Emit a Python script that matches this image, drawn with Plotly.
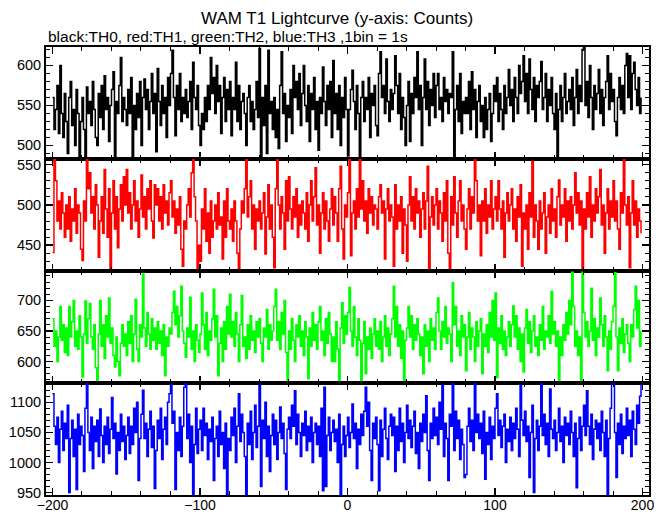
import plotly.graph_objects as go

# bin start times (1 s bins)
time = list(range(-200, 200))

# TH0 (black)
th0 = [
560, 520, 545, 575, 515, 600, 540, 510, 565, 530,
490, 560, 580, 525, 545, 500, 570, 540, 485, 530,
560, 520, 483, 573, 540, 555, 525, 580, 545, 510,
500, 565, 535, 575, 520, 587, 545, 560, 505, 550,
570, 592, 483, 555, 540, 575, 610, 530, 560, 545,
525, 570, 540, 585, 485, 550, 520, 565, 535, 580,
500, 560, 583, 545, 570, 520, 555, 590, 540, 565,
492, 596, 555, 525, 575, 540, 560, 510, 585, 550,
590, 619, 560, 512, 575, 545, 590, 530, 560, 540,
570, 535, 555, 580, 520, 604, 560, 545, 575, 525,
500, 540, 520, 560, 530, 575, 545, 610, 565, 585,
540, 600, 555, 575, 515, 560, 585, 530, 570, 545,
580, 512, 560, 545, 604, 530, 575, 520, 555, 565,
540, 500, 560, 575, 530, 555, 520, 545, 580, 535,
621, 483, 560, 525, 575, 490, 619, 540, 555, 520,
560, 510, 545, 496, 575, 617, 540, 565, 505, 550,
535, 570, 515, 600, 560, 580, 545, 590, 525, 565,
600, 550, 530, 575, 505, 565, 545, 585, 520, 555,
494, 560, 540, 598, 555, 525, 575, 545, 580, 510,
606, 540, 565, 520, 575, 500, 560, 535, 585, 545,
487, 545, 570, 594, 555, 520, 575, 540, 485, 560,
580, 530, 560, 545, 585, 510, 565, 550, 575, 525,
512, 590, 617, 560, 575, 540, 608, 555, 530, 570,
545, 565, 612, 575, 540, 590, 520, 560, 535, 500,
550, 580, 505, 565, 540, 585, 560, 617, 545, 575,
500, 560, 608, 545, 580, 525, 570, 550, 590, 535,
575, 590, 545, 560, 530, 585, 555, 570, 540, 565,
560, 617, 485, 545, 575, 530, 590, 515, 555, 540,
560, 540, 580, 520, 592, 545, 570, 510, 555, 575,
530, 550, 510, 560, 520, 545, 565, 505, 540, 575,
555, 585, 530, 565, 545, 520, 575, 540, 560, 595,
550, 570, 530, 585, 560, 540, 600, 565, 580, 612,
555, 590, 540, 608, 570, 545, 585, 530, 575, 560,
580, 605, 545, 560, 590, 530, 570, 550, 585, 540,
520, 565, 485, 545, 575, 530, 560, 590, 540, 555,
570, 545, 585, 525, 560, 595, 540, 575, 555, 620,
623, 550, 580, 535, 600, 560, 520, 575, 545, 565,
595, 540, 570, 525, 560, 580, 612, 545, 590, 555,
570, 530, 512, 560, 585, 545, 575, 540, 600, 615,
560, 612, 545, 590, 604, 570, 550, 585, 540, 560,
]

# TH1 (red)
th1 = [
441, 556, 530, 480, 505, 470, 515, 490, 460, 500,
470, 510, 455, 495, 480, 520, 465, 500, 490, 445,
431, 505, 480, 556, 520, 540, 490, 510, 470, 525,
500, 435, 480, 510, 465, 544, 495, 460, 520, 420,
490, 530, 470, 510, 447, 495, 525, 480, 535, 500,
544, 490, 515, 470, 500, 530, 480, 505, 460, 495,
537, 485, 510, 470, 520, 495, 530, 480, 459, 525,
500, 520, 480, 510, 470, 525, 490, 505, 475, 515,
530, 485, 505, 465, 495, 475, 510, 445, 424, 480,
470, 500, 520, 485, 540, 556, 510, 480, 418, 450,
430, 495, 470, 520, 455, 490, 440, 505, 460, 480,
500, 470, 515, 475, 485, 433, 505, 460, 520, 480,
470, 495, 455, 505, 480, 440, 420, 470, 505, 490,
520, 556, 485, 510, 530, 470, 500, 445, 495, 480,
505, 470, 490, 515, 439, 485, 525, 470, 500, 460,
422, 520, 556, 500, 470, 510, 490, 445, 530, 480,
535, 495, 470, 510, 485, 520, 460, 500, 475, 505,
490, 470, 515, 455, 500, 530, 480, 510, 546, 475,
500, 440, 490, 515, 470, 505, 480, 455, 495, 520,
475, 510, 490, 455, 520, 548, 470, 433, 500, 485,
515, 556, 437, 490, 505, 470, 520, 485, 556, 495,
530, 480, 505, 465, 520, 490, 510, 475, 500, 495,
470, 510, 525, 490, 505, 433, 495, 520, 480, 500,
485, 424, 525, 470, 500, 480, 510, 440, 495, 475,
430, 500, 535, 480, 510, 470, 520, 490, 505, 460,
495, 515, 470, 505, 548, 418, 485, 510, 475, 500,
520, 470, 505, 490, 455, 515, 480, 530, 440, 420,
510, 475, 535, 490, 460, 505, 530, 480, 500, 470,
445, 495, 520, 470, 510, 490, 556, 530, 480, 500,
437, 505, 480, 520, 465, 500, 485, 530, 470, 495,
510, 480, 530, 495, 470, 505, 435, 490, 515, 480,
500, 520, 470, 495, 455, 510, 485, 525, 424, 490,
470, 500, 445, 515, 485, 554, 460, 500, 480, 445,
505, 470, 490, 515, 440, 485, 500, 465, 520, 480,
495, 460, 510, 531, 475, 500, 485, 520, 455, 505,
480, 510, 470, 500, 540, 490, 515, 475, 505, 418,
495, 470, 515, 485, 535, 460, 500, 480, 520, 490,
510, 544, 475, 500, 440, 490, 520, 470, 505, 485,
530, 480, 505, 470, 445, 515, 490, 556, 500, 475,
510, 422, 490, 530, 475, 505, 460, 495, 480, 465,
]

# TH2 (green)
th2 = [
670, 625, 650, 600, 640, 690, 635, 660, 615, 655,
610, 690, 640, 665, 700, 625, 650, 620, 675, 640,
575, 645, 699, 630, 670, 695, 640, 620, 660, 590,
566, 645, 700, 625, 660, 605, 675, 640, 704, 630,
655, 610, 591, 640, 600, 577, 630, 660, 625, 645,
610, 665, 630, 675, 600, 645, 702, 620, 600, 660,
640, 743, 655, 625, 680, 645, 620, 670, 635, 655,
620, 665, 630, 650, 610, 660, 577, 640, 625, 655,
645, 680, 715, 660, 690, 640, 675, 723, 650, 630,
607, 655, 640, 705, 620, 650, 600, 660, 635, 615,
645, 712, 660, 620, 680, 610, 650, 635, 670, 718,
640, 675, 577, 630, 655, 600, 665, 620, 690, 645,
710, 640, 665, 625, 680, 645, 600, 660, 708, 625,
640, 605, 660, 620, 675, 635, 650, 615, 665, 640,
670, 630, 600, 655, 640, 685, 620, 660, 635, 650,
690, 718, 635, 665, 620, 680, 645, 700, 615, 569,
650, 620, 670, 635, 600, 660, 640, 675, 625, 650,
610, 665, 640, 572, 655, 625, 680, 635, 660, 620,
665, 690, 635, 650, 610, 670, 630, 680, 645, 600,
640, 600, 665, 620, 565, 655, 696, 630, 675, 645,
680, 721, 650, 625, 690, 640, 610, 670, 635, 569,
630, 665, 580, 640, 620, 655, 605, 645, 670, 625,
650, 620, 665, 600, 640, 675, 625, 655, 610, 645,
670, 723, 640, 690, 625, 660, 605, 650, 566, 635,
655, 690, 640, 675, 620, 660, 635, 670, 645, 610,
640, 580, 660, 625, 650, 600, 670, 635, 655, 620,
680, 704, 650, 620, 665, 640, 690, 630, 655, 645,
600, 729, 660, 690, 625, 650, 610, 675, 640, 660,
585, 640, 680, 620, 655, 640, 600, 665, 625, 650,
670, 580, 645, 625, 660, 615, 680, 640, 700, 635,
712, 574, 655, 630, 675, 620, 650, 610, 640, 665,
625, 660, 691, 640, 675, 620, 655, 600, 645, 583,
655, 685, 630, 665, 615, 650, 675, 625, 640, 610,
660, 635, 690, 620, 650, 640, 675, 630, 715, 645,
665, 625, 650, 566, 640, 610, 660, 635, 680, 645,
700, 660, 746, 690, 625, 650, 610, 640, 566, 746,
680, 640, 665, 625, 650, 720, 635, 670, 610, 655,
640, 704, 660, 625, 675, 640, 585, 650, 620, 665,
690, 745, 640, 585, 655, 630, 670, 615, 645, 660,
630, 600, 660, 640, 685, 723, 655, 700, 625, 650,
]

# TH3 (blue)
th3 = [
1114, 1060, 1030, 1075, 1000, 1055, 1085, 1020, 1065, 1040,
1095, 950, 1040, 1070, 1010, 1055, 955, 1080, 1030, 1060,
1045, 985, 1090, 1131, 1050, 1020, 1075, 990, 1060, 1035,
1070, 1010, 1089, 1045, 1000, 1060, 1030, 1075, 1015, 1055,
1108, 1040, 1065, 981, 1050, 1020, 1080, 1035, 1060, 1005,
1045, 1075, 1015, 1060, 1030, 1090, 1050, 1100, 970, 1040,
1080, 1120, 1040, 1065, 1010, 1055, 1085, 1025, 1060, 957,
1020, 1070, 1040, 1090, 1005, 1055, 1075, 1030, 1100, 1114,
1131, 1065, 1085, 955, 1050, 1020, 1075, 1010, 1060, 1125,
1131, 1040, 1080, 1000, 1060, 947, 1030, 1090, 1015, 1055,
1070, 1020, 1090, 1045, 1065, 1005, 1055, 1035, 1075, 970,
1040, 1060, 1010, 1085, 1030, 1050, 990, 1065, 947, 1040,
1020, 1075, 1045, 1090, 1000, 1060, 1114, 1035, 1080, 1050,
1010, 947, 1065, 1030, 1085, 1005, 1050, 1095, 1025, 1060,
1131, 960, 1070, 1040, 1100, 1010, 1060, 985, 1045, 1080,
1030, 1070, 1005, 1050, 1092, 1040, 1065, 1015, 955, 1055,
1075, 1040, 1095, 1060, 1119, 1030, 1080, 1050, 1010, 1065,
1045, 1085, 1020, 1060, 1035, 1075, 1000, 1050, 1065, 1030,
1060, 1010, 1090, 953, 1125, 960, 1045, 1075, 1020, 1050,
1070, 1035, 1055, 1000, 1080, 945, 1030, 1060, 1010, 1045,
1075, 1025, 1050, 1097, 1040, 1065, 990, 1055, 1030, 1080,
1045, 1085, 1125, 1060, 1100, 1020, 970, 1065, 1040, 1075,
1030, 953, 1070, 1010, 1055, 1090, 1040, 1005, 1060, 1080,
1045, 1075, 985, 1060, 1020, 1090, 1035, 1065, 1000, 1050,
1095, 1040, 1070, 1025, 1060, 1085, 1015, 1050, 990, 1065,
1035, 1080, 1050, 1111, 1020, 970, 1065, 1040, 1090, 1045,
1075, 1030, 1100, 1055, 1128, 1010, 1065, 1040, 970, 1080,
1060, 1131, 1020, 1085, 1040, 1070, 1005, 1055, 1030, 975,
980, 1060, 1090, 1035, 1070, 1020, 1131, 1050, 1080, 1040,
1065, 1015, 1085, 972, 1050, 1030, 1075, 1005, 1060, 1040,
1090, 1114, 1045, 1070, 1025, 1060, 1080, 1000, 1055, 1035,
1075, 1020, 1065, 1040, 1090, 1055, 1010, 1128, 1070, 1045,
1085, 1035, 1060, 975, 1050, 1095, 950, 1040, 1070, 1020,
1060, 1131, 1045, 1080, 1030, 1065, 1010, 1122, 1055, 1040,
1070, 1020, 1050, 1090, 1035, 1060, 1000, 1075, 1045, 1065,
1030, 1085, 1050, 1010, 1065, 958, 1040, 1075, 1020, 1060,
1095, 1045, 1119, 1060, 1030, 1080, 1005, 1055, 1070, 1040,
1065, 1020, 1085, 1050, 1010, 1070, 945, 1040, 1090, 1131,
1131, 1050, 975, 1065, 1030, 1080, 1015, 1060, 1040, 1090,
1045, 1070, 1010, 1085, 1055, 1030, 1095, 1065, 1110, 1131,
]

colors = ["#000000", "#ff0000", "#00ff00", "#0000ff"]
y_ranges = [[483, 623], [418, 557], [565, 748], [946, 1132]]
x_range = [-204.4, 204.4]
title_text = "WAM T1 Lightcurve (y-axis: Counts)"
subtitle_text = "black:TH0, red:TH1, green:TH2, blue:TH3 ,1bin = 1s"

font_family = "Liberation Sans, Arial, sans-serif"

fig = go.Figure()
series = [th0, th1, th2, th3]
domains = [[0.75, 1.0], [0.5, 0.75], [0.25, 0.5], [0.0, 0.25]]

for i, vals in enumerate(series):
    n = i + 1
    fig.add_trace(go.Scatter(
        x=time, y=vals, mode="lines",
        line=dict(color=colors[i], width=1.5, shape="hv"),
        xaxis="x" if n == 1 else f"x{n}",
        yaxis="y" if n == 1 else f"y{n}",
        showlegend=False, hoverinfo="skip",
    ))

common = dict(
    showline=True, linecolor="black", linewidth=2, mirror="ticks",
    ticks="inside", ticklen=7, tickwidth=1.5, tickcolor="black",
    showgrid=False, zeroline=False, automargin=False,
    tickfont=dict(family=font_family, size=14.5, color="black"),
)

layout = {}
for i in range(4):
    n = i + 1
    xk = "xaxis" if n == 1 else f"xaxis{n}"
    yk = "yaxis" if n == 1 else f"yaxis{n}"
    ya = "y" if n == 1 else f"y{n}"
    xa = "x" if n == 1 else f"x{n}"
    layout[xk] = dict(
        common, domain=[0, 1], anchor=ya, range=x_range,
        tick0=0, dtick=100, showticklabels=(n == 4),
        minor=dict(dtick=20, ticklen=4, ticks="inside", tickcolor="black",
                   tickwidth=1, showgrid=False),
    )
    if n == 4:
        layout[xk]["tickfont"] = dict(family=font_family, size=14, color="black")
        layout[xk]["ticklabelstandoff"] = -4
    if n != 1:
        layout[xk]["matches"] = "x"
    layout[yk] = dict(
        common, domain=domains[i], anchor=xa, range=y_ranges[i],
        tick0=0, dtick=50,
        minor=dict(dtick=10, ticklen=4, ticks="inside", tickcolor="black",
                   tickwidth=1, showgrid=False),
    )

fig.update_layout(
    width=669, height=515,
    margin=dict(l=46, r=20, t=47, b=20, autoexpand=False),
    paper_bgcolor="white", plot_bgcolor="white",
    font=dict(family=font_family, color="black"),
    annotations=[
        dict(text=title_text, xref="paper", yref="paper", x=0.482, y=1.064,
             xanchor="center", yanchor="middle", showarrow=False,
             font=dict(family=font_family, size=17, color="black")),
        dict(text=subtitle_text, xref="paper", yref="paper", x=0.0, y=1.024,
             xanchor="left", yanchor="middle", showarrow=False,
             font=dict(family=font_family, size=15.5, color="black")),
    ],
    **layout,
)

fig.write_html(
    "out.html",
    config={"displayModeBar": False, "staticPlot": True},
    post_script="document.body.style.margin='0';document.body.style.overflow='hidden';",
)
